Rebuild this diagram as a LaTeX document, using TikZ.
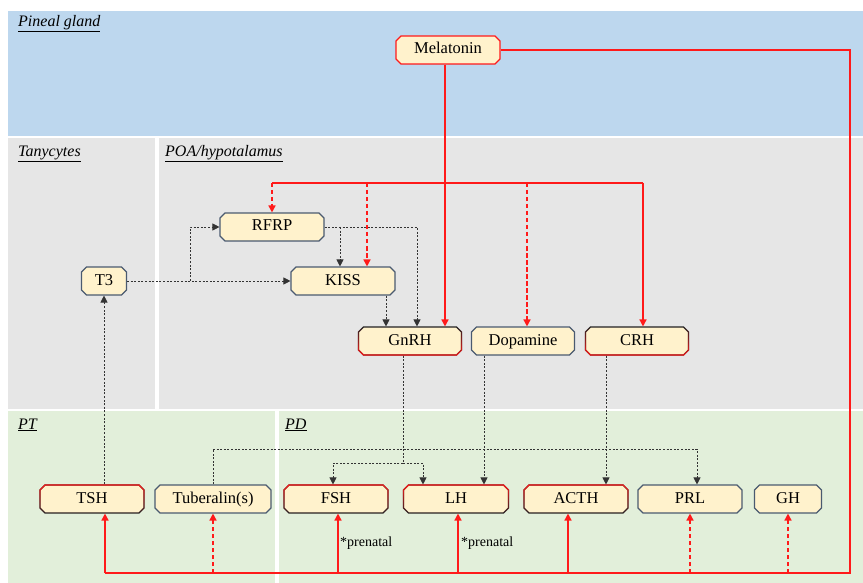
\documentclass[tikz,border=0pt]{standalone}
\usepackage{fontspec}
\setmainfont{Liberation Serif}
\usetikzlibrary{shapes.misc,arrows.meta,fadings}
\definecolor{bluebg}{HTML}{BDD7EE}
\definecolor{graybg}{HTML}{E6E6E6}
\definecolor{greenbg}{HTML}{E2EFDA}
\definecolor{boxfill}{HTML}{FFF2CC}
\definecolor{boxline}{HTML}{4A5A70}
\definecolor{darkline}{HTML}{222222}
\definecolor{myred}{HTML}{FF1A1A}
\definecolor{dotline}{HTML}{333333}
\begin{document}
\begin{tikzpicture}[x=1pt,y=-1pt,
  hbox/.style={chamfered rectangle, chamfered rectangle xsep=2.5pt, chamfered rectangle ysep=2.5pt,
    inner sep=0pt, minimum height=28pt, text height=11.5pt, text depth=3.5pt, fill=boxfill, line width=1.1pt, font=\fontsize{16.5}{18}\selectfont},
  greybox/.style={hbox, draw=boxline},
  redbox/.style={hbox, draw=myred},
  redbottom/.style={hbox, draw=darkline, postaction={draw=myred, path fading=south}},
  redtop/.style={hbox, draw=darkline, postaction={draw=myred, path fading=north}},
  region/.style={font=\fontsize{16}{18}\selectfont\itshape, anchor=west, inner sep=0pt},
  tip/.style={-{Triangle[length=7pt,width=7pt]}},
  redsolid/.style={draw=myred, line width=1.5pt},
  redarrow/.style={redsolid, tip},
  reddash/.style={redsolid, tip, dash pattern=on 4.5pt off 2.5pt},
  blackdot/.style={draw=dotline, line width=0.8pt, dash pattern=on 2pt off 1.6pt, tip},
  blackdotline/.style={draw=dotline, line width=0.8pt, dash pattern=on 2pt off 1.6pt},
  note/.style={font=\fontsize{14}{16}\selectfont, anchor=west, inner sep=0pt}
]
\useasboundingbox (0,0) rectangle (863,583);
% regions
\fill[white] (0,0) rectangle (863,583);
\fill[bluebg] (8,11) rectangle (863,136);
\fill[graybg] (8,138) rectangle (155,409);
\fill[graybg] (159,138) rectangle (863,409);
\fill[greenbg] (8,411) rectangle (275,583);
\fill[greenbg] (279,411) rectangle (863,583);

\node[region] (lpin) at (18,24) {\underline{Pineal gland}};
\node[region] (ltan) at (18,154) {\underline{Tanycytes}};
\node[region] (lpoa) at (165,154) {\underline{POA/hypotalamus}};
\node[region] (lpt) at (18,425) {\underline{PT}};
\node[region] (lpd) at (285,425) {\underline{PD}};

% nodes
\node[redbox, minimum width=104pt] (mel) at (448,50) {Melatonin};
\node[greybox, minimum width=104pt] (rfrp) at (272,227) {RFRP};
\node[greybox, minimum width=104pt] (kiss) at (343,281) {KISS};
\node[greybox, minimum width=45pt] (t3) at (104,281) {T3};
\node[redtop, minimum width=103pt] (gnrh) at (410,341) {GnRH};
\node[greybox, minimum width=103pt] (dop) at (523,341) {Dopamine};
\node[redtop, minimum width=103pt] (crh) at (637,341) {CRH};
\node[redbottom, minimum width=104pt] (tsh) at (92,499) {TSH};
\node[greybox, minimum width=116pt] (tub) at (213,499) {Tuberalin(s)};
\node[redbottom, minimum width=104pt] (fsh) at (336,499) {FSH};
\node[redbottom, minimum width=105pt] (lh) at (456,499) {LH};
\node[redbottom, minimum width=104pt] (acth) at (576,499) {ACTH};
\node[greybox, minimum width=104pt] (prl) at (690,499) {PRL};
\node[greybox, minimum width=67pt] (gh) at (788,499) {GH};

\node[note] (pn1) at (340,543) {*prenatal};
\node[note] (pn2) at (461,543) {*prenatal};

% melatonin outputs
\coordinate (rb) at (850,573);
\coordinate (lb) at (105,573);
\draw[redsolid] (mel.east) -| (rb) -- (lb);
\draw[redarrow] (lb) -- (lb |- tsh.south);
\draw[reddash] (tub.south |- lb) -- (tub.south);
\coordinate (fa) at ([xshift=2pt]fsh.south);
\draw[redarrow] (fa |- lb) -- (fa);
\coordinate (la) at ([xshift=2pt]lh.south);
\draw[redarrow] (la |- lb) -- (la);
\coordinate (aa) at ([xshift=-8pt]acth.south);
\draw[redarrow] (aa |- lb) -- (aa);
\draw[reddash] (prl.south |- lb) -- (prl.south);
\draw[reddash] (gh.south |- lb) -- (gh.south);

\coordinate (gn) at ([xshift=35pt]gnrh.north);
\draw[redarrow] (mel.south -| gn) -- (gn);

\coordinate (h1) at (272,183);
\coordinate (h2) at (643,183);
\draw[redsolid] (h1) -- (h2);
\draw[reddash] (h1) -- (rfrp.north);
\coordinate (ka) at ([xshift=24pt]kiss.north);
\draw[reddash] (ka |- h1) -- (ka);
\coordinate (da) at ([xshift=4pt]dop.north);
\draw[reddash] (da |- h1) -- (da);
\coordinate (ca) at ([xshift=6pt]crh.north);
\draw[redarrow] (h2) -- (ca);

% black dotted
\draw[blackdot] (t3.east) -- (kiss.west);
\coordinate (br) at (190,281);
\draw[blackdot] (br) |- (rfrp.west);
\coordinate (g1) at ([xshift=7pt]gnrh.north);
\draw[blackdot] (rfrp.east) -| (g1);
\coordinate (k1) at ([xshift=-3pt]kiss.north);
\draw[blackdot] (k1 |- rfrp.east) -- (k1);
\coordinate (k2) at ([xshift=43pt]kiss.south);
\draw[blackdot] (k2) -- (k2 |- gnrh.north);
\draw[blackdot] (tsh.north -| t3.south) -- (t3.south);

\coordinate (g2) at ([xshift=-7pt]gnrh.south);
\coordinate (gsplit) at (403,463);
\coordinate (f1) at ([xshift=-3pt]fsh.north);
\coordinate (l1) at ([xshift=-33pt]lh.north);
\draw[blackdotline] (g2) -- (gsplit);
\draw[blackdot] (gsplit) -| (f1);
\draw[blackdot] (gsplit) -| (l1);

\coordinate (d1) at ([xshift=-39pt]dop.south);
\draw[blackdot] (d1) -- (d1 |- lh.north);
\coordinate (c1) at ([xshift=-31pt]crh.south);
\draw[blackdot] (c1) -- (c1 |- acth.north);
\coordinate (tt) at (213,449);
\coordinate (p1) at ([xshift=7pt]prl.north);
\draw[blackdotline] (tub.north) -- (tt);
\draw[blackdot] (tt) -| (p1);
\end{tikzpicture}
\end{document}
